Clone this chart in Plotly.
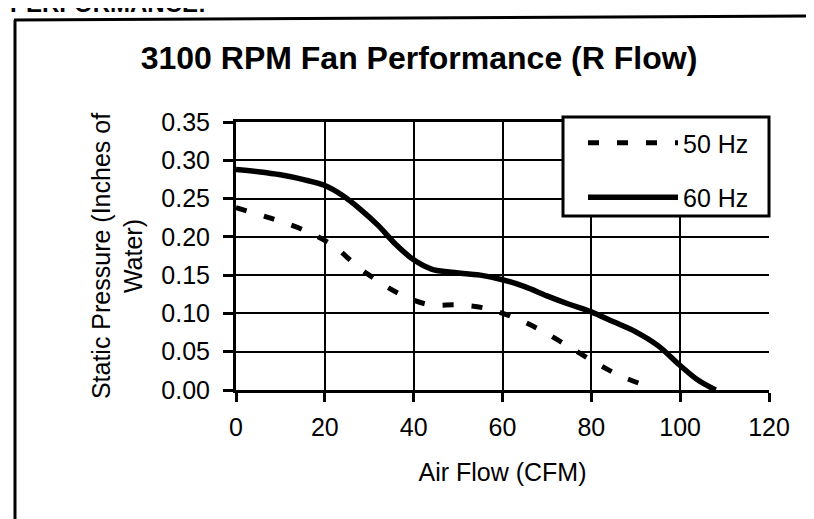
import plotly.graph_objects as go

# ---- data ----
flow_60 = [0, 5, 10, 15, 20, 24, 28, 32, 36, 40, 44, 48, 55, 60, 65, 70, 75, 80, 85, 90, 95, 100, 104, 108]
pres_60 = [0.288, 0.285, 0.281, 0.275, 0.267, 0.254, 0.236, 0.215, 0.190, 0.170, 0.158, 0.154, 0.150, 0.144,
           0.135, 0.123, 0.112, 0.102, 0.089, 0.076, 0.058, 0.032, 0.013, 0.0]

flow_50 = [0, 8, 16, 22, 27, 30, 36, 43, 50, 56, 62, 68, 74, 80, 86, 93]
pres_50 = [0.238, 0.224, 0.207, 0.188, 0.163, 0.150, 0.128, 0.112, 0.111, 0.107, 0.096, 0.080, 0.060, 0.039,
           0.020, 0.004]

series_names = ["50 Hz", "60 Hz"]
x_ticks = [0, 20, 40, 60, 80, 100, 120]
y_ticks = [0.00, 0.05, 0.10, 0.15, 0.20, 0.25, 0.30, 0.35]

title_text = "3100 RPM Fan Performance (R Flow)"
x_title = "Air Flow (CFM)"
y_title = "Static Pressure (Inches of<br>Water)"
header_text = "PERFORMANCE:"

# ---- layout geometry ----
W, H = 814, 519
L, R, T, B = 228, 53, 114, 137
PW, PH = W - L - R, H - T - B


def px(xp):
    return (xp - L) / PW


def py(yp):
    return (H - B - yp) / PH


FONT = "Liberation Sans, Arial, sans-serif"

fig = go.Figure()
fig.add_trace(go.Scatter(
    x=flow_50, y=pres_50, name=series_names[0], mode="lines",
    line=dict(color="black", width=5, dash="11px,18px", shape="spline"),
    legendgroup="a"))
fig.add_trace(go.Scatter(
    x=flow_60, y=pres_60, name=series_names[1], mode="lines",
    line=dict(color="black", width=5.5, shape="spline"),
    legendgroup="b"))

shapes = [
    # legend box (white, covers gridlines)
    dict(type="rect", xref="paper", yref="paper", x0=px(555), y0=py(208), x1=1, y1=py(109),
         fillcolor="white", line=dict(color="black", width=3), layer="above"),
    # outer frame (left, top, bottom-right piece)
    dict(type="line", xref="paper", yref="paper", x0=px(7), y0=py(12), x1=px(7), y1=py(525),
         line=dict(color="black", width=3)),
    dict(type="line", xref="paper", yref="paper", x0=px(6), y0=py(12), x1=px(820), y1=py(8),
         line=dict(color="black", width=3)),
    dict(type="line", xref="paper", yref="paper", x0=px(717), y0=py(518), x1=px(820), y1=py(517),
         line=dict(color="black", width=2)),
]

annotations = [
    dict(text="<b>" + header_text + "</b>", xref="paper", yref="paper", x=px(0), y=py(11),
         xanchor="left", yanchor="bottom", showarrow=False,
         font=dict(family=FONT, size=24, color="black")),
]

fig.update_layout(
    width=W, height=H,
    margin=dict(l=L, r=R, t=T, b=B, pad=0),
    paper_bgcolor="white", plot_bgcolor="white",
    font=dict(family=FONT, size=25, color="black"),
    title=dict(text="<b>" + title_text + "</b>", x=411 / W, xanchor="center",
               y=1 - 50 / H, yanchor="middle",
               font=dict(family=FONT, size=32, color="black")),
    showlegend=True,
    legend=dict(x=px(575), xanchor="left", y=py(112), yanchor="top",
                bgcolor="rgba(0,0,0,0)", borderwidth=0,
                font=dict(family=FONT, size=25, color="black"),
                itemwidth=90, tracegroupgap=19),
    shapes=shapes,
    annotations=annotations,
    xaxis=dict(range=[0, 120], tickvals=x_ticks, ticktext=[str(v) for v in x_ticks],
               showgrid=True, gridcolor="black", gridwidth=1.5,
               showline=True, linecolor="black", linewidth=3, mirror=True,
               ticks="outside", ticklen=9, tickwidth=2.5, tickcolor="black",
               ticklabelstandoff=4, zeroline=False,
               title=dict(text=x_title, standoff=24, font=dict(family=FONT, size=25))),
    yaxis=dict(range=[0, 0.35], tickvals=y_ticks, tickformat=".2f",
               showgrid=True, gridcolor="black", gridwidth=1.5,
               showline=True, linecolor="black", linewidth=3,
               ticks="outside", ticklen=10, tickwidth=2.5, tickcolor="black",
               ticklabelstandoff=8, zeroline=False,
               title=dict(text=y_title, standoff=12, font=dict(family=FONT, size=25))),
)

fig.write_html("out.html")
